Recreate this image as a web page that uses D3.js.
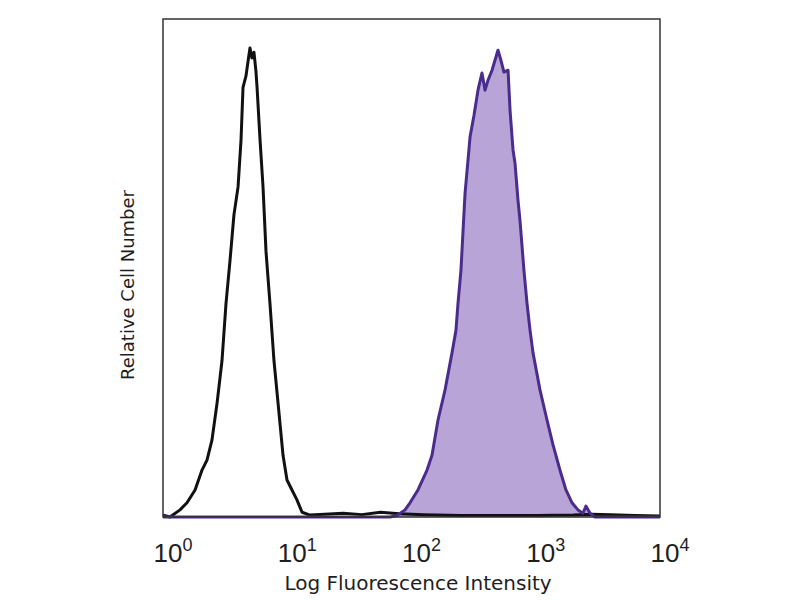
<!DOCTYPE html>
<html>
<head>
<meta charset="utf-8">
<script src="https://cdn.jsdelivr.net/npm/d3@7"></script>
<style>
  body { margin: 0; background: #fff; }
  text { font-family: "DejaVu Sans", Verdana, sans-serif; fill: #1e1e1e; }
</style>
</head>
<body>
<svg width="800" height="600"></svg>
<script>
// isotype control histogram (black outline), x in decades, y relative count
const ctrlLog = [0, 0.056, 0.137, 0.193, 0.258, 0.314, 0.354, 0.394, 0.435, 0.475, 0.507, 0.539,
  0.571, 0.604, 0.628, 0.644, 0.668, 0.684, 0.700, 0.716, 0.732, 0.748, 0.757, 0.781, 0.805,
  0.829, 0.861, 0.893, 0.926, 0.966, 0.998, 1.038, 1.078, 1.119, 1.183, 1.30, 1.45, 1.60, 1.75,
  1.90, 2.10, 2.40, 2.70, 3.00, 3.30, 3.45, 3.60, 3.80, 4.0];
const ctrlCount = [0.4, 0, 1.5, 3, 5.7, 9.9, 12, 16.2, 24, 33, 45, 54, 63.7, 69.6, 79.5, 90.6,
  93, 96, 98.9, 96.8, 98, 94, 90.6, 79.5, 69.6, 56, 45, 33, 24, 13, 7.8, 5.7, 3.6, 1, 0.4, 0.6,
  0.8, 0.5, 1, 0.7, 0.5, 0.3, 0.3, 0.3, 0.4, 0.6, 0.5, 0.3, 0.2];

// stained sample histogram (purple, filled)
const stainLog = [0, 1.827, 1.883, 1.948, 1.988, 2.052, 2.125, 2.165, 2.213, 2.270, 2.326, 2.358,
  2.374, 2.398, 2.431, 2.455, 2.471, 2.503, 2.535, 2.567, 2.592, 2.616, 2.648, 2.672, 2.696,
  2.720, 2.744, 2.777, 2.793, 2.817, 2.833, 2.857, 2.873, 2.905, 2.930, 2.954, 2.978, 3.034,
  3.091, 3.139, 3.195, 3.243, 3.292, 3.340, 3.380, 3.404, 3.437, 3.477, 4.0];
const stainCount = [0, 0, 0.3, 1.5, 3, 5.7, 9.9, 13, 20.4, 26.8, 34.6, 39.4, 45, 52, 68.3, 75.3,
  80.1, 84.7, 90, 93.6, 90, 92.1, 94.2, 96.3, 98.4, 96.3, 93.8, 94.2, 85.8, 77.4, 74.6, 66.8,
  62.6, 52, 45, 39.4, 34.6, 26.8, 20.4, 15.2, 9.9, 5.7, 3, 1.5, 0.8, 2.3, 0.8, 0, 0];

const tickExp = [0, 1, 2, 3, 4];

const svg = d3.select('svg');
const margin = { top: 19, right: 140, bottom: 83, left: 163 };
const width = 800, height = 600;

const x = d3.scaleLog().domain([1, 1e4]).range([margin.left, width - margin.right]);
const y = d3.scaleLinear().domain([0, 105]).range([height - margin.bottom, margin.top]);

const ctrl = ctrlLog.map((l, i) => ({ v: Math.pow(10, l), c: ctrlCount[i] }));
const stain = stainLog.map((l, i) => ({ v: Math.pow(10, l), c: stainCount[i] }));

const area = d3.area().x(d => x(d.v)).y0(y(0)).y1(d => y(d.c));
const line = d3.line().x(d => x(d.v)).y(d => y(d.c));

// filled purple histogram
svg.append('path')
  .attr('d', area(stain))
  .attr('fill', '#b9a4d8');

// black control outline
svg.append('path')
  .attr('d', line(ctrl))
  .attr('fill', 'none')
  .attr('stroke', '#111')
  .attr('stroke-width', 3)
  .attr('stroke-linejoin', 'round');

svg.append('path')
  .attr('d', line(stain))
  .attr('fill', 'none')
  .attr('stroke', '#4a2c8c')
  .attr('stroke-width', 3)
  .attr('stroke-linejoin', 'round');

// frame
svg.append('rect')
  .attr('x', x(1))
  .attr('y', y(105))
  .attr('width', x(1e4) - x(1))
  .attr('height', y(0) - y(105))
  .attr('fill', 'none')
  .attr('stroke', '#333')
  .attr('stroke-width', 1.5);

// tick labels 10^n
const labels = svg.append('g')
  .selectAll('text')
  .data(tickExp)
  .enter()
  .append('text')
  .attr('x', d => x(Math.pow(10, d)) + 10)
  .attr('y', 562)
  .attr('text-anchor', 'middle')
  .style('font-family', '"Liberation Sans", Arial, sans-serif')
  .style('font-size', '26px');
labels.append('tspan').text('10');
labels.append('tspan')
  .attr('dy', -11)
  .style('font-size', '18px')
  .text(d => d);

svg.append('text')
  .attr('x', 418)
  .attr('y', 590)
  .attr('text-anchor', 'middle')
  .style('font-size', '20px')
  .text('Log Fluorescence Intensity');

svg.append('text')
  .attr('transform', 'translate(134,285) rotate(-90)')
  .attr('text-anchor', 'middle')
  .style('font-size', '18px')
  .text('Relative Cell Number');
</script>
</body>
</html>
